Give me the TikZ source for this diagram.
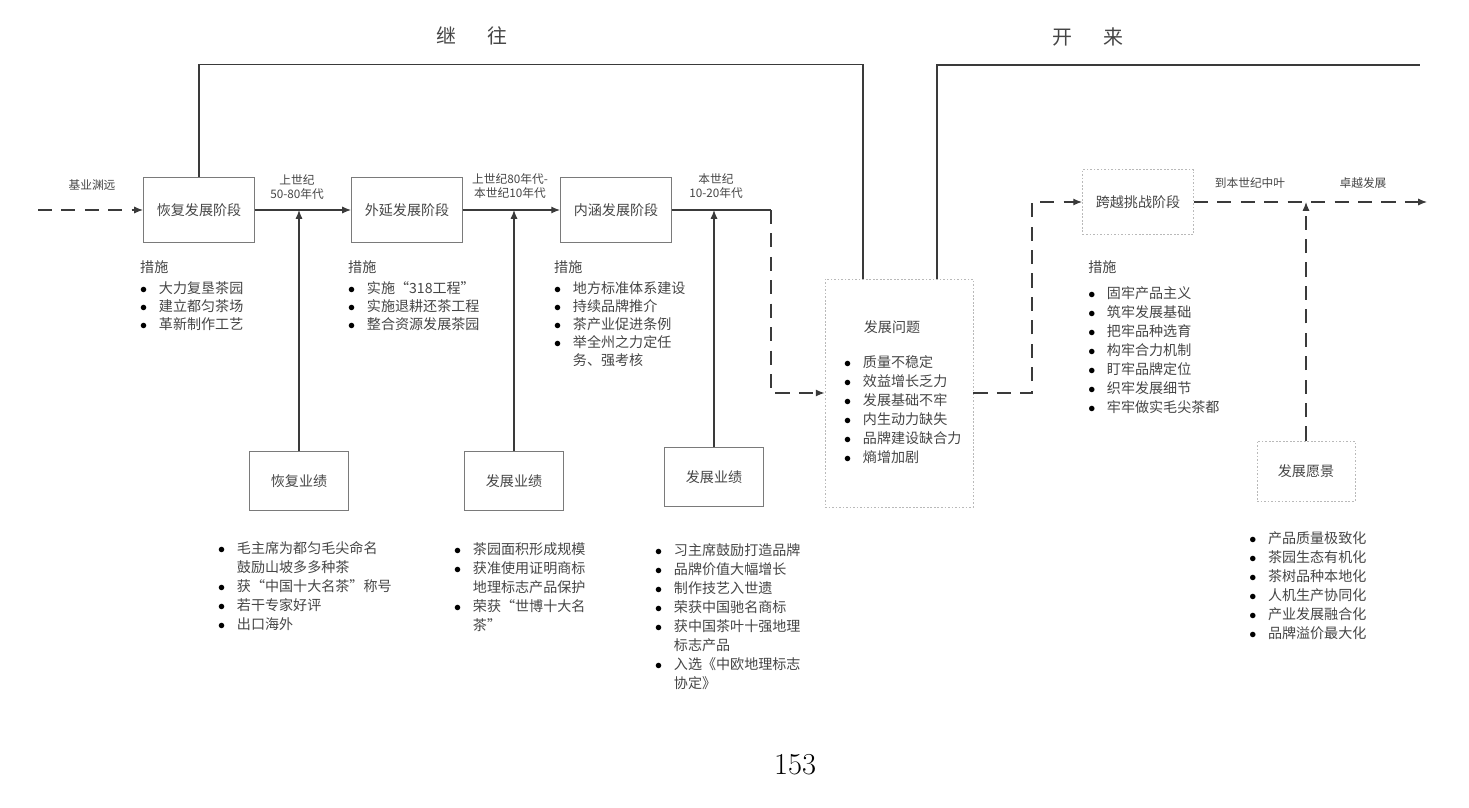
\documentclass[tikz,border=0pt]{standalone}
\usepackage{fontspec}
\usepackage{tikz}
\usetikzlibrary{arrows.meta,calc}
\newfontfamily\cjk{Noto Sans CJK SC}
\definecolor{ink}{HTML}{3A3A3A}
\definecolor{txt}{HTML}{454545}
\definecolor{frame}{HTML}{7A7A7A}
\newcommand{\bl}{\textcolor{black}{$\bullet$}}

\tikzset{
  conn/.style={draw=ink, line width=1pt},
  arr/.style={conn, -{Latex[length=7.5pt,width=6pt]}},
  dconn/.style={conn, dash pattern=on 12pt off 8pt},
  darr/.style={dconn, -{Latex[length=7.5pt,width=6pt]}},
  stage/.style={draw=frame, line width=0.8pt, text=txt, inner sep=0pt,
    font=\cjk\fontsize{12}{14}\selectfont, minimum width=3.33cm, minimum height=1.95cm},
  ybox/.style={stage, minimum width=2.97cm, minimum height=1.77cm},
  gbox/.style={stage, draw=gray!55, dash pattern=on 1.5pt off 1.5pt},
  lbl/.style={font=\cjk\fontsize{10}{12}\selectfont, text=txt, align=center},
  ttl/.style={font=\cjk\fontsize{17}{20}\selectfont, text=txt},
  lst/.style={anchor=north west, inner sep=0pt, text=txt, font=\cjk\fontsize{12}{16.2}\selectfont},
  mlst/.style={lst, font=\cjk\fontsize{12}{15.4}\selectfont}
}

\begin{document}
\begin{tikzpicture}[x=0.03cm, y=-0.03cm]
  \useasboundingbox (0,0) rectangle (1469,807);

  % stages
  \node[stage] (hf) at (199,210) {恢复发展阶段};
  \node[stage] (wy) at (407,210) {外延发展阶段};
  \node[stage] (nh) at (616,210) {内涵发展阶段};
  \node[gbox, minimum width=4.44cm, minimum height=6.84cm] (wt) at (899,393) {};
  \node[gbox] (ky) at (1138,202) {跨越挑战阶段};

  % results
  \node[ybox] (hy) at (299,481) {恢复业绩};
  \node[ybox] (fy1) at (514,481) {发展业绩};
  \node[ybox] (fy2) at (714,477) {发展业绩};
  \node[gbox, minimum width=2.94cm, minimum height=1.8cm] (yj) at (1306,471) {发展愿景};

  % titles
  \node[ttl] (jw) at (472,36) {继\hspace{1.6em}往};
  \node[ttl] (kl) at (1088,37) {开\hspace{1.6em}来};

  % free ends
  \coordinate (start) at (38,210);
  \coordinate (turn) at (771,210);
  \coordinate (turn2) at (1032,393);
  \coordinate (fin) at (1427,202);
  \coordinate (topend) at (1420,65);

  % main line
  \draw[darr] (start) -- (hf);
  \draw[arr] (hf) -- (wy);
  \draw[arr] (wy) -- (nh);
  \draw[conn] (nh) -- (turn);
  \draw[darr] (turn) |- (wt.west);
  \draw[darr] (wt.east) -- (turn2) |- (ky.west);
  \draw[darr] (ky) -- (fin);

  % results up to the line
  \draw[arr] (hy) -- (hy |- hf.east);
  \draw[arr] (fy1) -- (fy1 |- wy.east);
  \draw[arr] (fy2) -- (fy2 |- nh.east);
  \draw[darr] (yj) -- (yj |- ky.east);

  % brackets on top
  \draw[conn] (hf.north) |- ($(wt.north)+(-36,-214)$) -- ($(wt.north)+(-36,0)$);
  \draw[conn] ($(wt.north)+(38,0)$) |- (topend);

  % labels on the line
  \node[lbl] (l0) at (92,185) {基业渊远};
  \node[lbl] (l1) at (297,187) {上世纪\\50-80年代};
  \node[lbl] (l2) at (510,186) {上世纪80年代-\\本世纪10年代};
  \node[lbl] (l3) at (716,186) {本世纪\\10-20年代};
  \node[lbl] (l4) at (1250,183) {到本世纪中叶};
  \node[lbl] (l5) at (1363,183) {卓越发展};

  % measures
  \node[mlst] (m1) at (140,260) {\begin{tabular}{@{}c@{\hspace{10pt}}l@{}}
    \multicolumn{2}{@{}l@{}}{措施}\\[2pt]
    \bl & 大力复垦茶园\\ \bl & 建立都匀茶场\\ \bl & 革新制作工艺
  \end{tabular}};
  \node[mlst] (m2) at (348,260) {\begin{tabular}{@{}c@{\hspace{10pt}}l@{}}
    \multicolumn{2}{@{}l@{}}{措施}\\[2pt]
    \bl & 实施“318工程”\\ \bl & 实施退耕还茶工程\\ \bl & 整合资源发展茶园
  \end{tabular}};
  \node[mlst] (m3) at (554,260) {\begin{tabular}{@{}c@{\hspace{10pt}}l@{}}
    \multicolumn{2}{@{}l@{}}{措施}\\[2pt]
    \bl & 地方标准体系建设\\ \bl & 持续品牌推介\\ \bl & 茶产业促进条例\\
    \bl & 举全州之力定任\\ & 务、强考核
  \end{tabular}};
  \node[lst] (m4) at (1088,259) {\begin{tabular}{@{}c@{\hspace{10pt}}l@{}}
    \multicolumn{2}{@{}l@{}}{措施}\\[6pt]
    \bl & 固牢产品主义\\ \bl & 筑牢发展基础\\ \bl & 把牢品种选育\\
    \bl & 构牢合力机制\\ \bl & 盯牢品牌定位\\ \bl & 织牢发展细节\\
    \bl & 牢牢做实毛尖茶都
  \end{tabular}};

  % problems
  \node[lst, anchor=center] (wtt) at (892,327) {发展问题};
  \node[lst] (wtl) at (844,354) {\begin{tabular}{@{}c@{\hspace{10pt}}l@{}}
    \bl & 质量不稳定\\ \bl & 效益增长乏力\\ \bl & 发展基础不牢\\
    \bl & 内生动力缺失\\ \bl & 品牌建设缺合力\\ \bl & 熵增加剧
  \end{tabular}};

  % results lists
  \node[lst] (r1) at (218,540) {\begin{tabular}{@{}c@{\hspace{10pt}}l@{}}
    \bl & 毛主席为都匀毛尖命名\\ & 鼓励山坡多多种茶\\
    \bl & 获“中国十大名茶”称号\\ \bl & 若干专家好评\\ \bl & 出口海外
  \end{tabular}};
  \node[lst] (r2) at (454,541) {\begin{tabular}{@{}c@{\hspace{10pt}}l@{}}
    \bl & 茶园面积形成规模\\ \bl & 获准使用证明商标\\ & 地理标志产品保护\\
    \bl & 荣获“世博十大名\\ & 茶”
  \end{tabular}};
  \node[lst] (r3) at (655,542) {\begin{tabular}{@{}c@{\hspace{10pt}}l@{}}
    \bl & 习主席鼓励打造品牌\\ \bl & 品牌价值大幅增长\\ \bl & 制作技艺入世遗\\
    \bl & 荣获中国驰名商标\\ \bl & 获中国茶叶十强地理\\ & 标志产品\\
    \bl & 入选《中欧地理标志\\ & 协定》
  \end{tabular}};
  \node[lst] (r4) at (1249,530) {\begin{tabular}{@{}c@{\hspace{10pt}}l@{}}
    \bl & 产品质量极致化\\ \bl & 茶园生态有机化\\ \bl & 茶树品种本地化\\
    \bl & 人机生产协同化\\ \bl & 产业发展融合化\\ \bl & 品牌溢价最大化
  \end{tabular}};

  % page number
  \node[font=\fontsize{26}{30}\selectfont] (pg) at (795,765) {153};
\end{tikzpicture}
\end{document}
